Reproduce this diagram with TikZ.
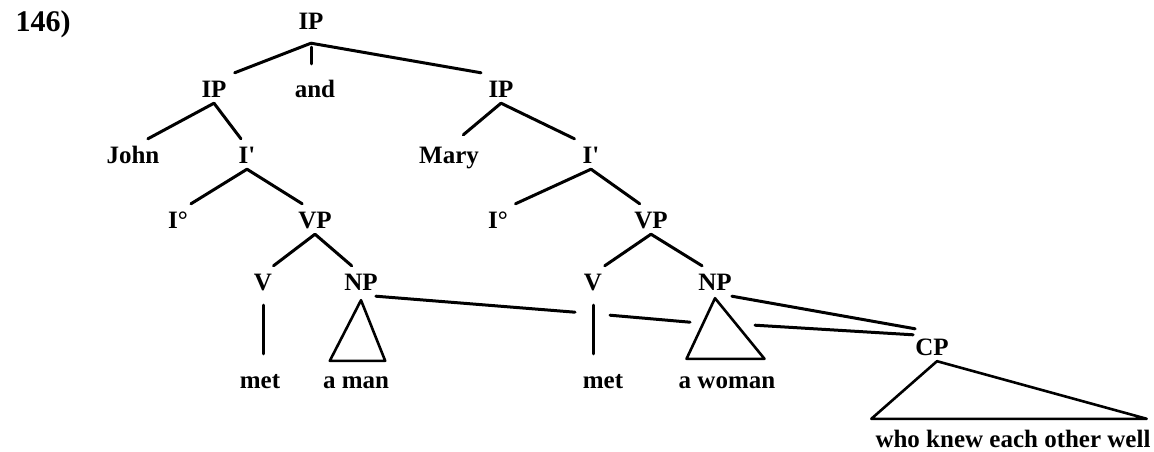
\documentclass[tikz,border=0pt]{standalone}
\usepackage{fontspec}
\setmainfont{Liberation Serif}
\usetikzlibrary{calc}
\newcommand{\branch}[3][8pt]{\draw[ln] let \p1=(#2),\p2=(#3),\n1={veclen((\x2)-(\x1),(\y2)-(\y1))*((\y1)-(\y2)-(#1))/((\y1)-(\y2))} in (\p1) -- ($(\p1)!\n1!(\p2)$);}
\begin{document}
\begin{tikzpicture}[x=1pt,y=-1pt,
  lab/.style={font=\bfseries\fontsize{25}{29}\selectfont, inner sep=0pt, text height=16pt, text depth=6pt, anchor=base},
  ln/.style={line width=3pt, line cap=round, line join=round},
  tri/.style={line width=2.6pt, line join=round}]
\useasboundingbox (0,0) rectangle (1154,452);
% labels
\node[lab, font=\bfseries\fontsize{30}{34}\selectfont] (num) at (43,32) {146)};
\node[lab, text depth=13pt] (IP0) at (311,30) {IP};
\node[lab] (and) at (315,97) {and};
\node[lab] (IP1) at (214,97) {IP};
\node[lab] (IP2) at (501,97) {IP};
\node[lab] (John) at (133,163) {John};
\node[lab] (Ib1) at (247,163) {I\textquotesingle};
\node[lab] (Mary) at (449,163) {Mary};
\node[lab] (Ib2) at (591,163) {I\textquotesingle};
\node[lab] (Io1) at (178,228) {I°};
\node[lab] (VP1) at (315,228) {VP};
\node[lab] (Io2) at (498,228) {I°};
\node[lab] (VP2) at (651,228) {VP};
\node[lab, text depth=15pt] (V1) at (263,290) {V};
\node[lab] (NP1) at (361,290) {NP};
\node[lab, text depth=15pt] (V2) at (593,290) {V};
\node[lab] (NP2) at (715,290) {NP};
\node[lab] (met1) at (260,388) {met};
\node[lab] (aman) at (356,388) {a man};
\node[lab] (met2) at (603,388) {met};
\node[lab] (awoman) at (727,388) {a woman};
\node[lab] (CP) at (932,355) {CP};
\node[lab] (who) at (1013,447) {who knew each other well};
% branches
\branch{IP0.south}{IP1.north}
\branch{IP0.south}{[xshift=26pt]IP2.north}
\branch[17pt]{[yshift=-4pt]IP0.south}{IP0.south |- and.north}
\branch{IP1.south}{John.north}
\branch{IP1.south}{Ib1.north}
\branch{Ib1.south}{Io1.north}
\branch{Ib1.south}{VP1.north}
\branch{VP1.south}{V1.north}
\branch{VP1.south}{NP1.north}
\branch[18pt]{V1.south}{V1.south |- met1.north}
\branch[12pt]{IP2.south}{Mary.north}
\branch{IP2.south}{Ib2.north}
\branch{Ib2.south}{Io2.north}
\branch{Ib2.south}{VP2.north}
\branch{VP2.south}{V2.north}
\branch{VP2.south}{NP2.north}
\branch[18pt]{V2.south}{V2.south |- met2.north}
% triangles
\draw[tri] ([yshift=-4pt]NP1.south) -- ([xshift=7pt,yshift=11pt]aman.north west) -- ([xshift=-4pt,yshift=11pt]aman.north east) -- cycle;
\draw[tri] ([yshift=-2pt]NP2.south) -- ([xshift=8pt,yshift=13pt]awoman.north west) -- ([xshift=-11pt,yshift=13pt]awoman.north east) -- cycle;
\draw[tri] ([xshift=5pt]CP.south) -- ([xshift=-4pt,yshift=12pt]who.north west) -- ([xshift=-4pt,yshift=12pt]who.north east) -- cycle;
% cross links
\draw[ln] ([xshift=-2pt]NP1.south east) -- ([xshift=-18pt,yshift=-7pt]V2.south);
\draw[ln] ([xshift=17pt,yshift=-10pt]V2.south) -- ([xshift=-25pt,yshift=-26pt]NP2.south);
\draw[ln] (NP2.south east) -- ([yshift=10pt]CP.north west);
\draw[ln] ([xshift=40pt,yshift=-29pt]NP2.south) -- ([xshift=-2pt,yshift=4pt]CP.north west);
\end{tikzpicture}
\end{document}
